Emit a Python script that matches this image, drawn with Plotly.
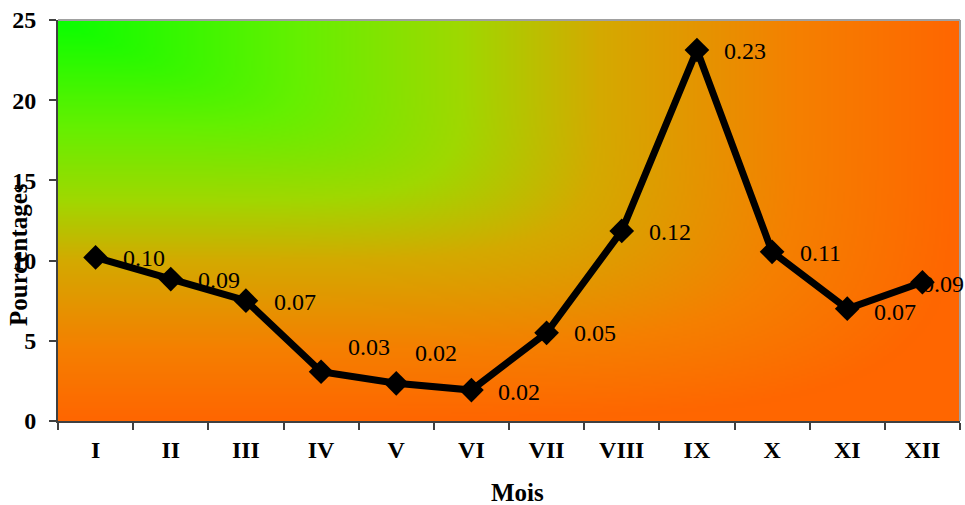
import base64, struct, zlib
import numpy as np
import plotly.graph_objects as go

# ---- data ----
months = ["I", "II", "III", "IV", "V", "VI", "VII", "VIII", "IX", "X", "XI", "XII"]
values = [10.2, 8.85, 7.5, 3.07, 2.35, 1.93, 5.5, 11.85, 23.13, 10.55, 7.0, 8.65]
labels = ["0.10", "0.09", "0.07", "0.03", "0.02", "0.02", "0.05", "0.12", "0.23", "0.11", "0.07", "0.09"]
y_ticks = [0, 5, 10, 15, 20, 25]

# label offsets (px) - style only
lab_dx = [48, 48, 49, 48, 40, 48, 48, 48, 48, 48, 48, 21]
lab_dy = [-1, -1, -1, 25, 30, -2, 0, -1, -1, -1, -3, -2]

FONT = "Liberation Serif, Times New Roman, serif"

# ---- gradient background image (style) ----
def make_png(rgb):
    h, w, _ = rgb.shape
    raw = b"".join(b"\x00" + rgb[i].astype(np.uint8).tobytes() for i in range(h))
    def chunk(tag, data):
        c = struct.pack(">I", len(data)) + tag + data
        return c + struct.pack(">I", zlib.crc32(tag + data) & 0xFFFFFFFF)
    png = b"\x89PNG\r\n\x1a\n"
    png += chunk(b"IHDR", struct.pack(">IIBBBBB", w, h, 8, 2, 0, 0, 0))
    png += chunk(b"IDAT", zlib.compress(raw, 9))
    png += chunk(b"IEND", b"")
    return "data:image/png;base64," + base64.b64encode(png).decode()

W, H = 451, 200
uu, vv = np.meshgrid(np.linspace(0, 1, W), np.linspace(0, 1, H))
d = np.clip((uu ** 6 + vv ** 6) ** (1 / 6), 0, 1)
stops = [0.0, 0.27, 0.45, 0.6, 0.82, 1.0]
cols = np.array([[10, 255, 0], [102, 240, 0], [160, 216, 0], [212, 170, 0], [245, 128, 0], [255, 102, 0]], float)
img = np.stack([np.interp(d, stops, cols[:, k]) for k in range(3)], axis=-1)
bg_src = make_png(img)

fig = go.Figure()
fig.add_trace(go.Scatter(
    x=months, y=values, mode="lines+markers",
    line=dict(color="black", width=7),
    marker=dict(symbol="diamond", size=19, color="black"),
    hoverinfo="skip", showlegend=False, cliponaxis=False,
))

for m, v, t, dx, dy in zip(months, values, labels, lab_dx, lab_dy):
    fig.add_annotation(x=m, y=v, xref="x", yref="y", text=t, showarrow=False,
                       xshift=dx, yshift=dy, xanchor="center", yanchor="middle",
                       font=dict(family=FONT, size=24, color="black"))

fig.add_annotation(text="<b>Pourcentages</b>", xref="paper", yref="paper", x=0, y=0.414,
                   xshift=-39, textangle=-90, showarrow=False, xanchor="center", yanchor="middle",
                   font=dict(family=FONT, size=25, color="black"))
fig.add_annotation(text="<b>Mois</b>", xref="paper", yref="paper", x=0.509, y=0,
                   yshift=-71, showarrow=False, xanchor="center", yanchor="middle",
                   font=dict(family=FONT, size=25, color="black"))

fig.add_layout_image(dict(source=bg_src, xref="paper", yref="paper", x=0, y=1,
                          sizex=1, sizey=1, xanchor="left", yanchor="top",
                          sizing="stretch", layer="below"))

# top & right borders
fig.add_shape(type="line", xref="paper", yref="paper", x0=0, x1=1, y0=1, y1=1,
              line=dict(color="#a0a0a0", width=2))
fig.add_shape(type="line", xref="paper", yref="paper", x0=1, x1=1, y0=0, y1=1,
              line=dict(color="#a0a0a0", width=2))

fig.update_layout(
    width=965, height=505,
    margin=dict(l=58, r=5, t=20, b=84),
    paper_bgcolor="white", plot_bgcolor="rgba(0,0,0,0)",
    font=dict(family=FONT, color="black"),
)
fig.update_xaxes(
    type="category", categoryorder="array", categoryarray=months,
    tickson="boundaries", ticks="outside", ticklen=7, tickwidth=1.5, tickcolor="#404040",
    showline=True, linecolor="#404040", linewidth=2, showgrid=False, zeroline=False,
    tickfont=dict(family=FONT, size=24, color="black"), ticklabelstandoff=6,
    tickvals=months, ticktext=["<b>%s</b>" % m for m in months],
    range=[-0.5, 11.5],
)
fig.update_yaxes(
    range=[0, 25], tickvals=y_ticks, ticktext=["<b>%d</b>" % t for t in y_ticks],
    ticks="outside", ticklen=7, tickwidth=1.5, tickcolor="#404040",
    showline=True, linecolor="#404040", linewidth=2, showgrid=False, zeroline=False,
    tickfont=dict(family=FONT, size=24, color="black"), ticklabelstandoff=8,
)

fig.write_html("out.html")
